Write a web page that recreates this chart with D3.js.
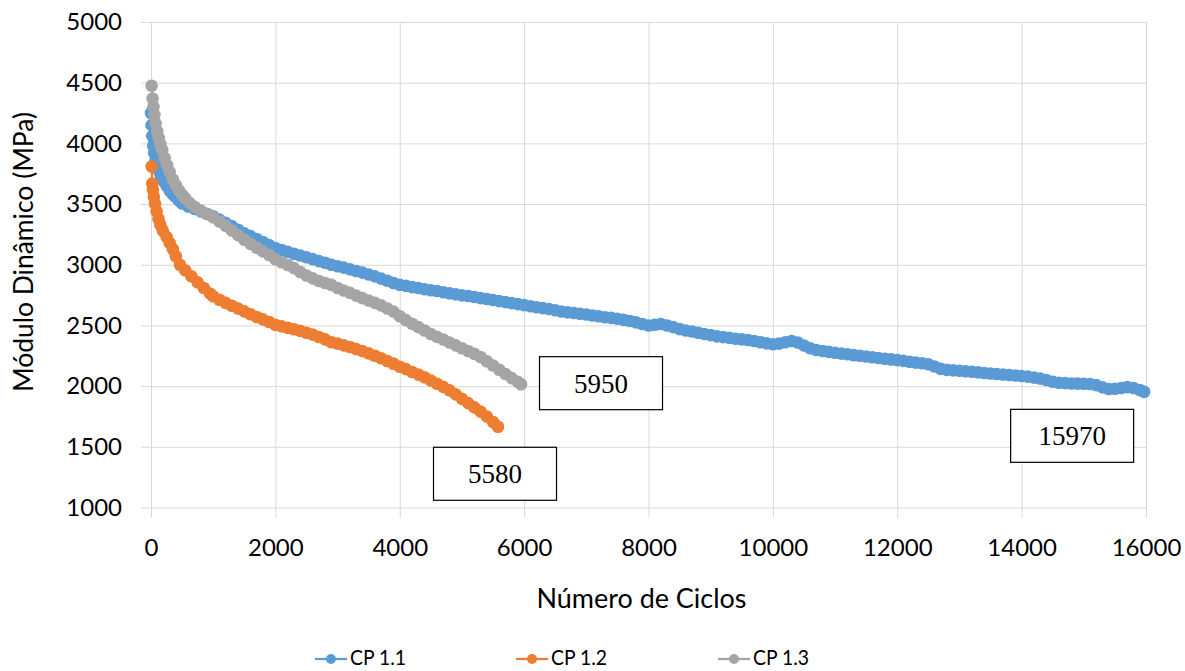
<!DOCTYPE html>
<html>
<head>
<meta charset="utf-8">
<script src="https://cdn.jsdelivr.net/npm/d3@7/dist/d3.min.js"></script>
<style>
  html, body { margin: 0; padding: 0; background: #fff; }
  svg { display: block; }
</style>
</head>
<body>
<svg id="chart" width="1185" height="671"></svg>
<script>
// ---------------- DATA ----------------
const xTicks = [0, 2000, 4000, 6000, 8000, 10000, 12000, 14000, 16000];
const yTicks = [1000, 1500, 2000, 2500, 3000, 3500, 4000, 4500, 5000];
const seriesNames = ["CP 1.1", "CP 1.2", "CP 1.3"];
const seriesColors = ["#5B9BD5", "#ED7D31", "#A5A5A5"];
const endLabels = ["15970", "5580", "5950"];
const xTitle = "Número de Ciclos";
const yTitle = "Módulo Dinâmico (MPa)";

// [cycles, MPa]
const cp11 = [[0,4250],[10,4150],[20,4060],[35,3980],[50,3920],[75,3860],[100,3810],[130,3770],[160,3730],[200,3690],[250,3650],[300,3610],[350,3580],[400,3555],[450,3530],[500,3505],[600,3480],[700,3460],[800,3440],[900,3420],
[1000,3400],[1100,3372],[1200,3345],[1300,3318],[1400,3288],[1500,3260],[1600,3236],[1700,3212],[1800,3188],[1900,3162],
[2000,3138],[2100,3122],[2200,3106],[2300,3090],[2400,3076],[2500,3062],[2600,3046],[2700,3030],[2800,3016],[2900,3000],
[3000,2988],[3100,2976],[3200,2962],[3300,2948],[3400,2935],[3500,2920],[3600,2904],[3700,2886],[3800,2868],[3900,2850],
[4000,2834],[4100,2826],[4200,2816],[4300,2808],[4400,2798],[4500,2790],[4600,2784],[4700,2774],[4800,2764],[4900,2756],
[5000,2748],[5100,2742],[5200,2734],[5300,2725],[5400,2718],[5500,2710],[5600,2700],[5700,2692],[5800,2684],[5900,2676],
[6000,2667],[6100,2658],[6200,2650],[6300,2643],[6400,2635],[6500,2625],[6600,2615],[6700,2608],[6800,2602],[6900,2596],
[7000,2590],[7100,2582],[7200,2576],[7300,2568],[7400,2562],[7500,2555],[7600,2546],[7700,2536],[7800,2525],[7900,2512],
[8000,2500],[8100,2506],[8200,2512],[8300,2500],[8400,2486],[8500,2470],[8600,2458],[8700,2450],[8800,2440],[8900,2430],
[9000,2420],[9100,2410],[9200,2404],[9300,2398],[9400,2390],[9500,2385],[9600,2380],[9700,2372],[9800,2362],[9900,2352],
[10000,2345],[10100,2350],[10200,2362],[10300,2372],[10400,2360],[10500,2335],[10600,2312],[10700,2298],[10800,2290],[10900,2282],
[11000,2275],[11100,2268],[11200,2262],[11300,2255],[11400,2250],[11500,2244],[11600,2238],[11700,2232],[11800,2226],[11900,2220],
[12000,2214],[12100,2208],[12200,2200],[12300,2194],[12400,2188],[12500,2180],[12600,2162],[12700,2142],[12800,2134],[12900,2130],
[13000,2127],[13100,2122],[13200,2118],[13300,2113],[13400,2108],[13500,2104],[13600,2100],[13700,2096],[13800,2092],[13900,2088],
[14000,2084],[14100,2078],[14200,2070],[14300,2062],[14400,2050],[14500,2036],[14600,2028],[14700,2025],[14800,2022],[14900,2021],
[15000,2020],[15100,2017],[15200,2008],[15300,1990],[15400,1976],[15500,1978],[15600,1985],[15700,1992],[15800,1984],[15900,1968],[15970,1953]];

const cp12 = [[10,3810],[20,3670],[30,3620],[45,3560],[65,3500],[90,3440],[120,3380],[150,3330],[190,3280],[250,3230],[300,3180],[350,3130],[400,3070],[465,3000],[550,2955],[650,2905],[750,2855],[850,2808],[950,2762],
[1000,2740],[1100,2712],[1200,2686],[1300,2662],[1400,2640],[1500,2616],[1600,2592],[1700,2570],[1800,2550],[1900,2528],
[2000,2505],[2100,2492],[2200,2480],[2300,2468],[2400,2455],[2500,2440],[2600,2424],[2700,2405],[2800,2385],[2900,2362],
[3000,2350],[3100,2336],[3200,2322],[3300,2305],[3400,2288],[3500,2270],[3600,2250],[3700,2230],[3800,2207],[3900,2185],
[4000,2160],[4100,2140],[4200,2116],[4300,2095],[4400,2073],[4500,2046],[4600,2020],[4700,1994],[4800,1965],[4900,1932],
[5000,1895],[5100,1860],[5200,1825],[5300,1790],[5400,1750],[5500,1705],[5580,1665]];

const cp13 = [[10,4475],[25,4370],[40,4300],[55,4235],[75,4165],[100,4100],[125,4045],[150,3995],[180,3945],[220,3880],[260,3820],[300,3765],[350,3705],[400,3655],[450,3612],[500,3578],[550,3548],[625,3508],[700,3478],[800,3446],[900,3418],
[1000,3392],[1100,3356],[1200,3320],[1300,3282],[1400,3244],[1500,3206],[1600,3172],[1700,3140],[1800,3110],[1900,3080],
[2000,3045],[2100,3020],[2200,2998],[2300,2972],[2400,2940],[2500,2912],[2600,2888],[2700,2866],[2800,2850],[2900,2834],
[3000,2808],[3100,2788],[3200,2768],[3300,2746],[3400,2725],[3500,2705],[3600,2686],[3700,2665],[3800,2640],[3900,2614],
[4000,2576],[4100,2544],[4200,2514],[4300,2486],[4400,2458],[4500,2430],[4600,2406],[4700,2384],[4800,2360],[4900,2336],
[5000,2312],[5100,2290],[5200,2266],[5300,2240],[5400,2205],[5500,2170],[5600,2135],[5700,2100],[5800,2066],[5900,2035],[5950,2016]];

const allSeries = [cp11, cp12, cp13];

// ---------------- LAYOUT ----------------
const plot = { left: 151, right: 1146, top: 22, bottom: 507.5 };
const tickLen = 10;
const font = "Lato, 'Open Sans', sans-serif";
const gridColor = "#D9D9D9";
const markerR = 6.3;

const svg = d3.select("#chart");
const x = d3.scaleLinear().domain([0, 16000]).range([plot.left, plot.right]);
const y = d3.scaleLinear().domain([1000, 5000]).range([plot.bottom, plot.top]);

// scale a text so its rendered width matches a target width
function fitWidth(sel, target) {
  const w = sel.node().getComputedTextLength();
  const fs = parseFloat(sel.attr("font-size"));
  sel.attr("font-size", (fs * target / w).toFixed(2));
}

// Y axis with gridlines
const yAxis = d3.axisLeft(y).tickValues(yTicks).tickFormat(d3.format("d"))
  .tickSizeInner(-(plot.right - plot.left + tickLen)).tickSizeOuter(0).tickPadding(19);
const gy = svg.append("g").attr("transform", `translate(${plot.left - tickLen},0)`).call(yAxis);
gy.select(".domain").remove();
gy.selectAll("line").attr("stroke", gridColor).attr("stroke-width", 1);
gy.selectAll("text").attr("font-family", font).attr("font-size", 24).attr("fill", "#000");

// X axis with gridlines
const xAxis = d3.axisBottom(x).tickValues(xTicks).tickFormat(d3.format("d"))
  .tickSizeInner(-(plot.bottom + tickLen - plot.top)).tickSizeOuter(0).tickPadding(21);
const gx = svg.append("g").attr("transform", `translate(0,${plot.bottom + tickLen})`).call(xAxis);
gx.select(".domain").remove();
gx.selectAll("line").attr("stroke", gridColor).attr("stroke-width", 1);
gx.selectAll("text").attr("font-family", font).attr("font-size", 24).attr("fill", "#000");

// Axis titles
const xt = svg.append("text").attr("x", 641.5).attr("y", 608).attr("text-anchor", "middle")
  .attr("font-family", font).attr("font-size", 24).attr("fill", "#000").text(xTitle);
fitWidth(xt, 210);
const yt = svg.append("text").attr("transform", "translate(33,252) rotate(-90)").attr("text-anchor", "middle")
  .attr("font-family", font).attr("font-size", 24).attr("fill", "#000").text(yTitle);
fitWidth(yt, 280);

// Series
const line = d3.line().x(d => x(d[0])).y(d => y(d[1]));
allSeries.forEach((data, i) => {
  const g = svg.append("g");
  g.append("path").datum(data).attr("d", line).attr("fill", "none")
    .attr("stroke", seriesColors[i]).attr("stroke-width", 2.25);
  g.selectAll("circle").data(data).enter().append("circle")
    .attr("cx", d => x(d[0])).attr("cy", d => y(d[1])).attr("r", markerR)
    .attr("fill", seriesColors[i]);
});

// End labels (boxes)
const labelOffsets = [[-72, 44], [-3, 47], [80, -1]];
const boxW = 123, boxH = 53;
allSeries.forEach((data, i) => {
  const last = data[data.length - 1];
  const cx = x(last[0]) + labelOffsets[i][0];
  const cy = y(last[1]) + labelOffsets[i][1];
  svg.append("rect").attr("x", cx - boxW / 2).attr("y", cy - boxH / 2)
    .attr("width", boxW).attr("height", boxH)
    .attr("fill", "#fff").attr("stroke", "#000").attr("stroke-width", 1.2);
  svg.append("text").attr("x", cx).attr("y", cy).attr("dy", "0.35em")
    .attr("text-anchor", "middle").attr("font-family", "'Liberation Serif', 'Times New Roman', serif")
    .attr("font-size", 27).attr("fill", "#000").text(endLabels[i]);
});

// Legend
const legendX = [315, 516, 718];
const legendY = 659;
seriesNames.forEach((name, i) => {
  const g = svg.append("g").attr("transform", `translate(${legendX[i]},${legendY})`);
  g.append("line").attr("x1", 0).attr("x2", 32).attr("y1", 0).attr("y2", 0)
    .attr("stroke", seriesColors[i]).attr("stroke-width", 2.25);
  g.append("circle").attr("cx", 16).attr("cy", 0).attr("r", 5).attr("fill", seriesColors[i]);
  g.append("text").attr("x", 35).attr("y", 6).attr("font-family", font).attr("font-size", 22)
    .attr("textLength", 56).attr("lengthAdjust", "spacingAndGlyphs")
    .attr("fill", "#000").text(name);
});
</script>
</body>
</html>
